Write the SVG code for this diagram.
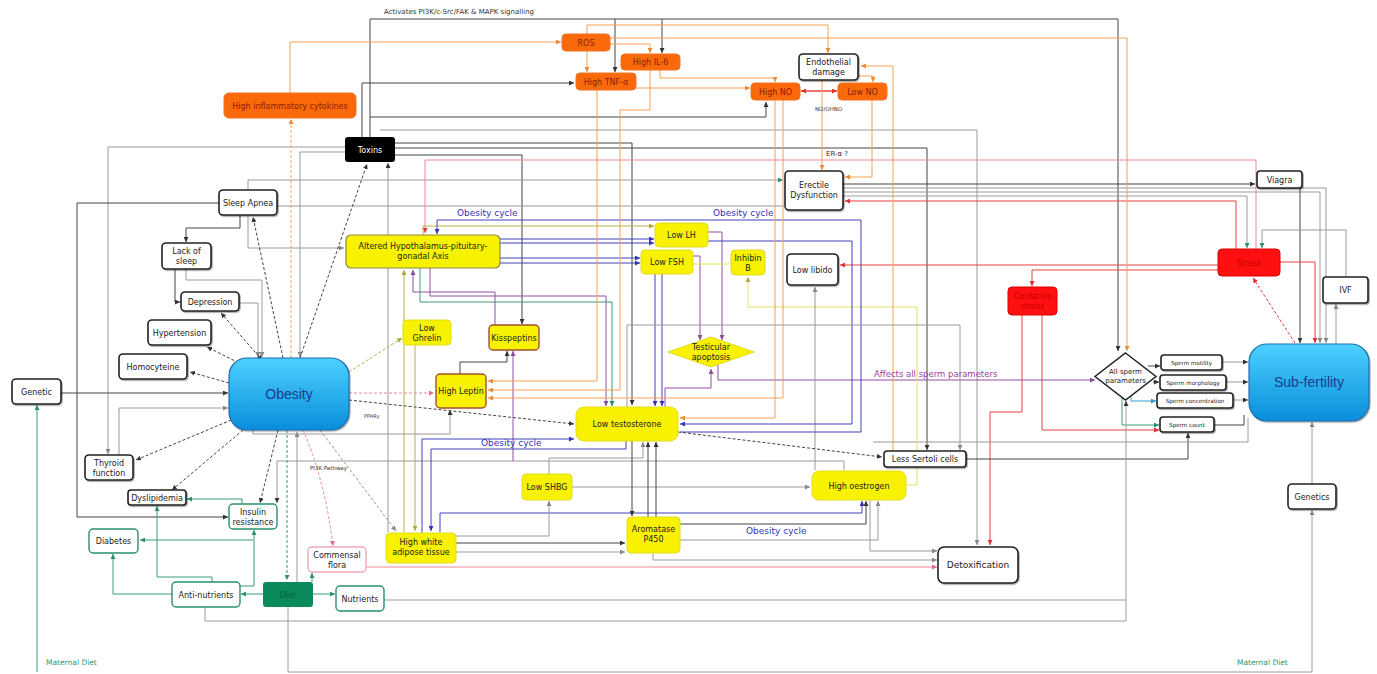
<svg xmlns="http://www.w3.org/2000/svg" width="1377" height="674" viewBox="0 0 1377 674">
<defs>
<linearGradient id="gb" x1="0" y1="0" x2="0" y2="1"><stop offset="0" stop-color="#4cd0ff"/><stop offset="1" stop-color="#0a8edb"/></linearGradient>
<filter id="sh" x="-10%" y="-10%" width="130%" height="140%"><feDropShadow dx="1" dy="1.2" stdDeviation="0.7" flood-color="#000" flood-opacity="0.35"/></filter>
<marker id="ak" viewBox="0 0 6 6" refX="6" refY="3" markerWidth="5" markerHeight="5" markerUnits="userSpaceOnUse" orient="auto-start-reverse"><path d="M0,0L6,3L0,6z" fill="#333"/></marker>
<marker id="ag" viewBox="0 0 6 6" refX="6" refY="3" markerWidth="5" markerHeight="5" markerUnits="userSpaceOnUse" orient="auto-start-reverse"><path d="M0,0L6,3L0,6z" fill="#888"/></marker>
<marker id="ao" viewBox="0 0 6 6" refX="6" refY="3" markerWidth="5" markerHeight="5" markerUnits="userSpaceOnUse" orient="auto-start-reverse"><path d="M0,0L6,3L0,6z" fill="#f08a30"/></marker>
<marker id="ar" viewBox="0 0 6 6" refX="6" refY="3" markerWidth="5" markerHeight="5" markerUnits="userSpaceOnUse" orient="auto-start-reverse"><path d="M0,0L6,3L0,6z" fill="#e03030"/></marker>
<marker id="ap" viewBox="0 0 6 6" refX="6" refY="3" markerWidth="5" markerHeight="5" markerUnits="userSpaceOnUse" orient="auto-start-reverse"><path d="M0,0L6,3L0,6z" fill="#e86a88"/></marker>
<marker id="ab" viewBox="0 0 6 6" refX="6" refY="3" markerWidth="5" markerHeight="5" markerUnits="userSpaceOnUse" orient="auto-start-reverse"><path d="M0,0L6,3L0,6z" fill="#3434b8"/></marker>
<marker id="au" viewBox="0 0 6 6" refX="6" refY="3" markerWidth="5" markerHeight="5" markerUnits="userSpaceOnUse" orient="auto-start-reverse"><path d="M0,0L6,3L0,6z" fill="#8a4a9a"/></marker>
<marker id="an" viewBox="0 0 6 6" refX="6" refY="3" markerWidth="5" markerHeight="5" markerUnits="userSpaceOnUse" orient="auto-start-reverse"><path d="M0,0L6,3L0,6z" fill="#2a9070"/></marker>
<marker id="ay" viewBox="0 0 6 6" refX="6" refY="3" markerWidth="5" markerHeight="5" markerUnits="userSpaceOnUse" orient="auto-start-reverse"><path d="M0,0L6,3L0,6z" fill="#b0a838"/></marker>
<marker id="ac" viewBox="0 0 6 6" refX="6" refY="3" markerWidth="5" markerHeight="5" markerUnits="userSpaceOnUse" orient="auto-start-reverse"><path d="M0,0L6,3L0,6z" fill="#2aa0d0"/></marker>
</defs>
<style>
.t{font-family:"DejaVu Sans",sans-serif;font-size:8px;fill:#222;text-anchor:middle}
.s{font-size:5.6px}
.big{font-family:"Liberation Sans",Arial,sans-serif;font-size:14px;fill:#1a3c8a;text-anchor:middle}
.w{fill:#fff;stroke:#222;stroke-width:1.6;filter:url(#sh)}
.wg{fill:#fff;stroke:#2a9070;stroke-width:1.4}
.wp{fill:#fff;stroke:#f0a8b8;stroke-width:1.4}
.y{fill:#f8f200;stroke:#e2dc20;stroke-width:1}
.yh{fill:#f8f200;stroke:#8a8a40;stroke-width:1.2}
.yb{fill:#f8f200;stroke:#a0522d;stroke-width:1.4}
.o{fill:#fb6a0a;stroke:#f07020;stroke-width:1}
.ot{fill:#8a1c00}
.r{fill:#ff1010;stroke:#e00000;stroke-width:1}
.rt{fill:#c80000}
.blu{fill:url(#gb);stroke:#1d6fb0;stroke-width:1.2;filter:url(#sh)}
.lbl{font-family:"DejaVu Sans",sans-serif;fill:#333}
.oc{font-family:"DejaVu Sans",sans-serif;font-size:9px;fill:#3434b8}
#conn path{fill:none;stroke-width:1}
.k{stroke:#444}
.g{stroke:#9a9a9a}
.or{stroke:#f5a050}
.re{stroke:#e84040}
.pk{stroke:#f08898}
.bl{stroke:#4040b8;stroke-width:1.3}
.pu{stroke:#9050a0}
.gr{stroke:#3a9a78}
.ye{stroke:#e8e060}
.ol{stroke:#b8b048}
.cy{stroke:#30a0d0}
.d{stroke-dasharray:3 2;stroke-width:1.5}
</style>
<rect width="1377" height="674" fill="#fff"/>
<g id="conn">
<path class="k" d="M370 137V19H1118V351" marker-end="url(#ak)"/>
<path class="k" d="M615 19V72" marker-end="url(#ak)"/>
<path class="k" d="M662 19V53" marker-end="url(#ak)"/>
<path class="k" d="M362 137V83H574" marker-end="url(#ak)"/>
<path class="k" d="M370 117H766V102" marker-end="url(#ak)"/>
<path class="g" d="M380 130H977V545" marker-end="url(#ag)"/>
<path class="k" d="M395 143H632V405" marker-end="url(#ak)"/>
<path class="k" d="M395 155H522V324" marker-end="url(#ak)"/>
<path class="k" d="M395 148H927V450" marker-end="url(#ak)"/>
<path class="g" d="M345 147H108V454" marker-end="url(#ag)"/>
<path class="k" d="M219 203H77V517H228" marker-end="url(#ak)"/>
<path class="k" d="M240 215V228H186V242" marker-end="url(#ak)"/>
<path class="k" d="M175 269V302H180" marker-end="url(#ak)"/>
<path class="g" d="M186 269V280H262V357" marker-end="url(#ag)"/>
<path class="g" d="M239 303H258V357" marker-end="url(#ag)"/>
<path class="g" d="M248 215V248H344" marker-end="url(#ag)"/>
<path class="g" d="M248 190V180H783" marker-end="url(#an)"/>
<path class="g" d="M277 206H784"/>
<path class="k" d="M61 393H228" marker-end="url(#ak)"/>
<path class="g" d="M119 455V408H228" marker-end="url(#ag)"/>
<path class="g" d="M345 152H300V357" marker-end="url(#ag)"/>
<path class="g" d="M388 532V163" marker-end="url(#ak)"/>
<path class="g" d="M253 430V434H450V410" marker-end="url(#ak)"/>
<path class="g" d="M297 582V432" marker-end="url(#ag)"/>
<path class="k" d="M843 184H1255" marker-end="url(#ak)"/>
<path class="g" d="M843 188H1326V343" marker-end="url(#ag)"/>
<path class="g" d="M843 192H1320V343" marker-end="url(#ag)"/>
<path class="g" d="M843 196H1247V248" marker-end="url(#an)"/>
<path class="re" d="M1236 249V201H845" marker-end="url(#ar)"/>
<path class="k" d="M1300 188V343" marker-end="url(#ak)"/>
<path class="g" d="M1346 277V230H1262V248" marker-end="url(#an)"/>
<path class="g" d="M1336 344V304" marker-end="url(#ag)"/>
<path class="re" d="M1280 262H1315V343" marker-end="url(#ar)"/>
<path class="re" d="M1218 265H840" marker-end="url(#ar)"/>
<path class="re" d="M1218 270H1032V286" marker-end="url(#ar)"/>
<path class="re" d="M1022 315V412H990V545" marker-end="url(#ar)"/>
<path class="re" d="M1042 315V430H1159" marker-end="url(#ar)"/>
<path class="re d" d="M1295 343L1253 278" marker-end="url(#ar)"/>
<path class="pk" d="M1256 249V160H425V233" marker-end="url(#ar)"/>
<path class="k" d="M1148 366H1160" marker-end="url(#ak)"/>
<path class="k" d="M1153 382H1159" marker-end="url(#ak)"/>
<path class="cy" d="M1131 393V401H1156" marker-end="url(#ac)"/>
<path class="gr" d="M1122 398V425H1159" marker-end="url(#an)"/>
<path class="g" d="M1222 362H1248" marker-end="url(#ak)"/>
<path class="g" d="M1226 382H1248" marker-end="url(#ak)"/>
<path class="g" d="M1233 400H1248" marker-end="url(#ak)"/>
<path class="k" d="M1214 425H1244V415"/>
<path class="k" d="M966 459H1188V433" marker-end="url(#ak)"/>
<path class="g" d="M873 442H1248V418"/>
<path class="pu" d="M718 365V380H1095" marker-end="url(#au)"/>
<path class="pu" d="M665 407V388H711V369" marker-end="url(#au)"/>
<path class="gr" d="M263 594H241" marker-end="url(#an)"/>
<path class="gr" d="M313 594H335" marker-end="url(#an)"/>
<path class="gr" d="M312 582V573" marker-end="url(#an)"/>
<path class="gr" d="M37 672V405" marker-end="url(#an)"/>
<path class="g" d="M288 607V672H1312V510" marker-end="url(#ag)"/>
<path class="g" d="M1312 484V422" marker-end="url(#ag)"/>
<path class="gr" d="M172 594H113V554" marker-end="url(#an)"/>
<path class="gr" d="M212 582V577H157V506" marker-end="url(#an)"/>
<path class="gr" d="M240 586H254V530" marker-end="url(#an)"/>
<path class="gr" d="M253 540H140" marker-end="url(#an)"/>
<path class="gr" d="M242 504V499H187" marker-end="url(#an)"/>
<path class="g" d="M205 607V621H1126V401" marker-end="url(#ak)"/>
<path class="g" d="M384 600H1126"/>
<path class="g" d="M844 470V461H277V503" marker-end="url(#ak)"/>
<path class="ol" d="M415 345V531" marker-end="url(#ay)"/>
<path class="ol" d="M404 532V270" marker-end="url(#ay)"/>
<path class="pu" d="M495 325V292H413V270" marker-end="url(#au)"/>
<path class="k" d="M460 374V362H507V351" marker-end="url(#ak)"/>
<path class="pu" d="M513 461V351" marker-end="url(#au)"/>
<path class="bl" d="M500 239H654" marker-end="url(#ab)"/>
<path class="bl" d="M500 243H654" marker-end="url(#ab)"/>
<path class="bl" d="M500 258H640" marker-end="url(#ab)"/>
<path class="bl" d="M500 263H640" marker-end="url(#ab)"/>
<path class="ol" d="M423 235V226H654" marker-end="url(#ay)"/>
<path class="pu" d="M708 232H722V340" marker-end="url(#au)"/>
<path class="pu" d="M693 256H700V340" marker-end="url(#au)"/>
<path class="ye" d="M693 264H730"/>
<path class="ye" d="M907 485H917V307H748V277" marker-end="url(#ay)"/>
<path class="g" d="M815 470V287" marker-end="url(#ag)"/>
<path class="bl" d="M708 241H852V424H680" marker-end="url(#ab)"/>
<path class="bl" d="M680 432H861V220H437V234" marker-end="url(#ab)"/>
<path class="bl" d="M655 274V406" marker-end="url(#ab)"/>
<path class="bl" d="M662 274V406" marker-end="url(#ab)"/>
<path class="pu" d="M430 268V296H606V406" marker-end="url(#au)"/>
<path class="gr" d="M420 268V302H612V406" marker-end="url(#an)"/>
<path class="bl" d="M422 533V439H574" marker-end="url(#ab)"/>
<path class="bl" d="M626 441V449H431V531" marker-end="url(#ab)"/>
<path class="bl" d="M440 532V513H862V501" marker-end="url(#ab)"/>
<path class="k" d="M680 524H866V501" marker-end="url(#ak)"/>
<path class="g" d="M680 540H878V501" marker-end="url(#ag)"/>
<path class="k" d="M456 543H625" marker-end="url(#ak)"/>
<path class="g" d="M456 552H625" marker-end="url(#ag)"/>
<path class="g" d="M572 487H810" marker-end="url(#ag)"/>
<path class="g" d="M456 536H549V501" marker-end="url(#ag)"/>
<path class="g" d="M549 474V458H643V442" marker-end="url(#ag)"/>
<path class="k" d="M648 517V442" marker-end="url(#ak)"/>
<path class="k" d="M656 517V442" marker-end="url(#ak)"/>
<path class="k" d="M632 441V516" marker-end="url(#ak)"/>
<path class="g" d="M653 553V560H937" marker-end="url(#ag)"/>
<path class="pk" d="M366 567H937" marker-end="url(#ap)"/>
<path class="g" d="M870 500V551H937" marker-end="url(#ag)"/>
<path class="g" d="M627 407V325H960V450" marker-end="url(#ag)"/>
<path class="or" d="M290 93V42H561" marker-end="url(#ao)"/>
<path class="or" d="M587 34V25H828V53" marker-end="url(#ao)"/>
<path class="or" d="M587 51V72" marker-end="url(#ao)"/>
<path class="or" d="M610 44H650V53" marker-end="url(#ao)"/>
<path class="or" d="M610 38H1127V351" marker-end="url(#ao)"/>
<path class="or" d="M660 70V78H775V82" marker-end="url(#ao)"/>
<path class="or" d="M636 88H750" marker-end="url(#ao)"/>
<path class="re" d="M801 91H837" marker-start="url(#ar)" marker-end="url(#ar)" style="stroke-width:1.5"/>
<path class="or" d="M893 450V66H861" marker-end="url(#ao)"/>
<path class="or" d="M858 76H873V82" marker-end="url(#ao)"/>
<path class="or" d="M822 80V170" marker-end="url(#ao)"/>
<path class="or" d="M872 100V177H845" marker-end="url(#ao)"/>
<path class="or" d="M597 90V381H488" marker-end="url(#ao)"/>
<path class="or" d="M650 70V110H620V390H488" marker-end="url(#ao)"/>
<path class="or" d="M775 100V418H680" marker-end="url(#ao)"/>
<path class="or" d="M783 100V398H488" marker-end="url(#ao)"/>
<path class="k d" d="M300 358L367 164" marker-end="url(#ak)"/>
<path class="k d" d="M283 358L253 217" marker-end="url(#ak)"/>
<path class="k d" d="M262 360L221 313" marker-start="url(#ak)" marker-end="url(#ak)"/>
<path class="k d" d="M243 365L207 347" marker-end="url(#ak)"/>
<path class="k d" d="M229 383L190 372" marker-end="url(#ak)"/>
<path class="k d" d="M236 418L136 460" marker-end="url(#ak)"/>
<path class="k d" d="M243 430L172 490" marker-end="url(#ak)"/>
<path class="k d" d="M278 430L260 503" marker-end="url(#ak)"/>
<path class="gr d" d="M287 430V580" marker-end="url(#an)"/>
<path class="pk d" d="M303 430Q325 480 333 546" marker-end="url(#ap)"/>
<path class="g d" d="M320 430L396 531" marker-end="url(#ag)"/>
<path class="ol d" d="M349 372L402 338" marker-end="url(#ay)"/>
<path class="pk d" d="M349 393H434" marker-end="url(#ap)"/>
<path class="k d" d="M349 400L574 424" marker-end="url(#ak)"/>
<path class="k d" d="M678 432L882 457" marker-end="url(#ak)"/>
<path class="or d" d="M291 358V119" marker-end="url(#ao)"/>
</g>
<g id="labels">
<text class="lbl" x="384" y="14" font-size="7">Activates PI3K/c-Src/FAK &amp; MAPK signalling</text>
<text class="lbl" x="815" y="111" font-size="5.5">NO/OHNO</text>
<text class="lbl" x="826" y="156" font-size="7">ER-α ?</text>
<text class="oc" x="457" y="216">Obesity cycle</text>
<text class="oc" x="713" y="216">Obesity cycle</text>
<text class="oc" x="481" y="446">Obesity cycle</text>
<text class="oc" x="746" y="534">Obesity cycle</text>
<text class="lbl" x="874" y="377" font-size="8.5" style="fill:#a040a0">Affects all sperm parameters</text>
<text class="lbl" x="364" y="418" font-size="5">PPARγ</text>
<text class="lbl" x="310" y="470" font-size="5.5">PI3K Pathway</text>
<text class="lbl" x="46" y="665" font-size="7.5" style="fill:#2a9a70">Maternal Diet</text>
<text class="lbl" x="1237" y="665" font-size="7.5" style="fill:#2a9a70">Maternal Diet</text>
</g>
<g id="ros"><rect class="o" x="562" y="34" width="48" height="17" rx="4"/><text class="t ot" x="586" y="45.5">ROS</text></g>
<g id="il6"><rect class="o" x="621" y="54" width="59" height="16" rx="4"/><text class="t ot" x="650.5" y="65">High IL-6</text></g>
<g id="tnf"><rect class="o" x="576" y="73" width="60" height="17" rx="4"/><text class="t ot" x="606" y="84.5">High TNF-α</text></g>
<g id="cyt"><rect class="o" x="224" y="93" width="132" height="25" rx="5"/><text class="t ot" x="290" y="108.5">High inflammatory cytokines</text></g>
<g id="endo"><rect class="w" x="799" y="54" width="59" height="26" rx="4"/><text class="t" x="828.5" y="65">Endothelial</text><text class="t" x="828.5" y="75">damage</text></g>
<g id="hno"><rect class="o" x="751" y="83" width="49" height="17" rx="4"/><text class="t ot" x="775.5" y="94.5">High NO</text></g>
<g id="lno"><rect class="o" x="838" y="83" width="49" height="17" rx="4"/><text class="t ot" x="862.5" y="94.5">Low NO</text></g>
<g id="tox"><rect x="345" y="137" width="50" height="25" rx="3" fill="#000"/><text class="t" x="370" y="152.5" style="fill:#fff">Toxins</text></g>
<g id="ed"><rect class="w" x="785" y="171" width="58" height="39" rx="4"/><text class="t" x="814" y="188">Erectile</text><text class="t" x="814" y="198">Dysfunction</text></g>
<g id="viagra"><rect class="w" x="1257" y="171" width="45" height="17" rx="3"/><text class="t" x="1279.5" y="182.5">Viagra</text></g>
<g id="sleep"><rect class="w" x="219" y="190" width="58" height="25" rx="4"/><text class="t" x="248" y="205.5">Sleep Apnea</text></g>
<g id="hpg"><rect class="yh" x="346" y="235" width="154" height="33" rx="5"/><text class="t" x="423" y="249">Altered Hypothalamus-pituitary-</text><text class="t" x="423" y="259">gonadal Axis</text></g>
<g id="lh"><rect class="y" x="655" y="223" width="53" height="24" rx="4"/><text class="t" x="681.5" y="238">Low LH</text></g>
<g id="fsh"><rect class="y" x="641" y="250" width="52" height="24" rx="4"/><text class="t" x="667" y="265">Low FSH</text></g>
<g id="inh"><rect class="y" x="731" y="250" width="34" height="25" rx="4"/><text class="t" x="748" y="260.5">Inhibin</text><text class="t" x="748" y="270.5">B</text></g>
<g id="libido"><rect class="w" x="787" y="254" width="51" height="31" rx="4"/><text class="t" x="812.5" y="272.5">Low libido</text></g>
<g id="lack"><rect class="w" x="162" y="243" width="49" height="26" rx="4"/><text class="t" x="186.5" y="254">Lack of</text><text class="t" x="186.5" y="264">sleep</text></g>
<g id="stress"><rect class="r" x="1218" y="249" width="62" height="27" rx="4"/><text class="t rt" x="1249" y="265.5">Stress</text></g>
<g id="ivf"><rect class="w" x="1323" y="277" width="45" height="26" rx="3"/><text class="t" x="1345.5" y="292.5">IVF</text></g>
<g id="oxi"><rect class="r" x="1008" y="287" width="49" height="28" rx="4"/><text class="t rt" x="1032.5" y="298.5">Oxidative</text><text class="t rt" x="1032.5" y="308.5">stress</text></g>
<g id="dep"><rect class="w" x="181" y="292" width="58" height="19" rx="4"/><text class="t" x="210" y="304.5">Depression</text></g>
<g id="hyp"><rect class="w" x="148" y="320" width="63" height="25" rx="4"/><text class="t" x="179.5" y="335.5">Hypertension</text></g>
<g id="ghr"><rect class="y" x="403" y="320" width="48" height="25" rx="4"/><text class="t" x="427" y="330.5">Low</text><text class="t" x="427" y="340.5">Ghrelin</text></g>
<g id="kiss"><rect class="yb" x="489" y="325" width="50" height="25" rx="4"/><text class="t" x="514" y="340.5">Kisspeptins</text></g>
<g id="apop"><polygon points="711,337 754,352 711,367 668,352" fill="#f8f200" stroke="#e2dc20"/><text class="t" x="711" y="350">Testicular</text><text class="t" x="711" y="360">apoptosis</text></g>
<g id="homo"><rect class="w" x="119" y="354" width="68" height="25" rx="4"/><text class="t" x="153" y="369.5">Homocyteine</text></g>
<g id="obesity"><rect class="blu" x="229" y="358" width="120" height="72" rx="18"/><text class="big" x="289" y="399">Obesity</text></g>
<g id="asp"><polygon points="1125.5,353 1156,376.5 1125.5,400 1095,376.5" fill="#fff" stroke="#222" stroke-width="1.5"/><text class="t" x="1125.5" y="374" style="font-size:7px">All sperm</text><text class="t" x="1125.5" y="383" style="font-size:7px">parameters</text></g>
<g id="mot"><rect class="w" x="1161" y="355" width="61" height="15" rx="3"/><text class="t s" x="1191.5" y="364.5">Sperm motility</text></g>
<g id="morph"><rect class="w" x="1160" y="375" width="66" height="15" rx="3"/><text class="t s" x="1193" y="384.5">Sperm morphology</text></g>
<g id="conc"><rect class="w" x="1157" y="393" width="76" height="15" rx="3"/><text class="t s" x="1195" y="402.5">Sperm concentration</text></g>
<g id="count"><rect class="w" x="1160" y="417" width="54" height="15" rx="3"/><text class="t s" x="1187" y="426.5">Sperm count</text></g>
<g id="sub"><rect class="blu" x="1249" y="344" width="120" height="77" rx="18"/><text class="big" x="1309" y="387">Sub-fertility</text></g>
<g id="genetic"><rect class="w" x="12" y="379" width="49" height="25" rx="4"/><text class="t" x="36.5" y="394.5">Genetic</text></g>
<g id="lep"><rect class="yb" x="436" y="374" width="50" height="34" rx="4"/><text class="t" x="461" y="394">High Leptin</text></g>
<g id="lowt"><rect class="y" x="576" y="407" width="102" height="34" rx="8"/><text class="t" x="627" y="427">Low testosterone</text></g>
<g id="sert"><rect class="w" x="884" y="451" width="82" height="16" rx="3"/><text class="t" x="925" y="462">Less Sertoli cells</text></g>
<g id="thy"><rect class="w" x="85" y="455" width="48" height="25" rx="4"/><text class="t" x="109" y="465.5">Thyroid</text><text class="t" x="109" y="475.5">function</text></g>
<g id="shbg"><rect class="y" x="522" y="474" width="50" height="26" rx="4"/><text class="t" x="547" y="490">Low SHBG</text></g>
<g id="oes"><rect class="y" x="812" y="471" width="94" height="29" rx="7"/><text class="t" x="859" y="488.5">High oestrogen</text></g>
<g id="dys"><rect class="w" x="128" y="490" width="58" height="15" rx="3"/><text class="t" x="157" y="500.5">Dyslipidemia</text></g>
<g id="genetics"><rect class="w" x="1288" y="484" width="48" height="25" rx="4"/><text class="t" x="1312" y="499.5">Genetics</text></g>
<g id="ins"><rect class="wg" x="229" y="504" width="48" height="25" rx="4"/><text class="t" x="253" y="514.5">Insulin</text><text class="t" x="253" y="524.5">resistance</text></g>
<g id="aro"><rect class="y" x="627" y="517" width="53" height="36" rx="4"/><text class="t" x="653.5" y="532">Aromatase</text><text class="t" x="653.5" y="542">P450</text></g>
<g id="adi"><rect class="y" x="386" y="533" width="70" height="30" rx="4"/><text class="t" x="421" y="545">High white</text><text class="t" x="421" y="555">adipose tissue</text></g>
<g id="dia"><rect class="wg" x="89" y="529" width="49" height="24" rx="4"/><text class="t" x="113.5" y="544">Diabetes</text></g>
<g id="com"><rect class="wp" x="308" y="547" width="58" height="25" rx="4"/><text class="t" x="337" y="557.5">Commensal</text><text class="t" x="337" y="567.5">flora</text></g>
<g id="det"><rect class="w" x="938" y="547" width="80" height="36" rx="6"/><text class="t" x="978" y="568" style="font-size:9px">Detoxification</text></g>
<g id="anti"><rect class="wg" x="172" y="582" width="68" height="25" rx="4"/><text class="t" x="206" y="597.5">Anti-nutrients</text></g>
<g id="diet"><rect x="263" y="582" width="50" height="25" rx="3" fill="#0b8a5c"/><text class="t" x="288" y="597.5" style="fill:#063">Diet</text></g>
<g id="nut"><rect class="wg" x="336" y="586" width="48" height="25" rx="4"/><text class="t" x="360" y="601.5">Nutrients</text></g>
</svg>
